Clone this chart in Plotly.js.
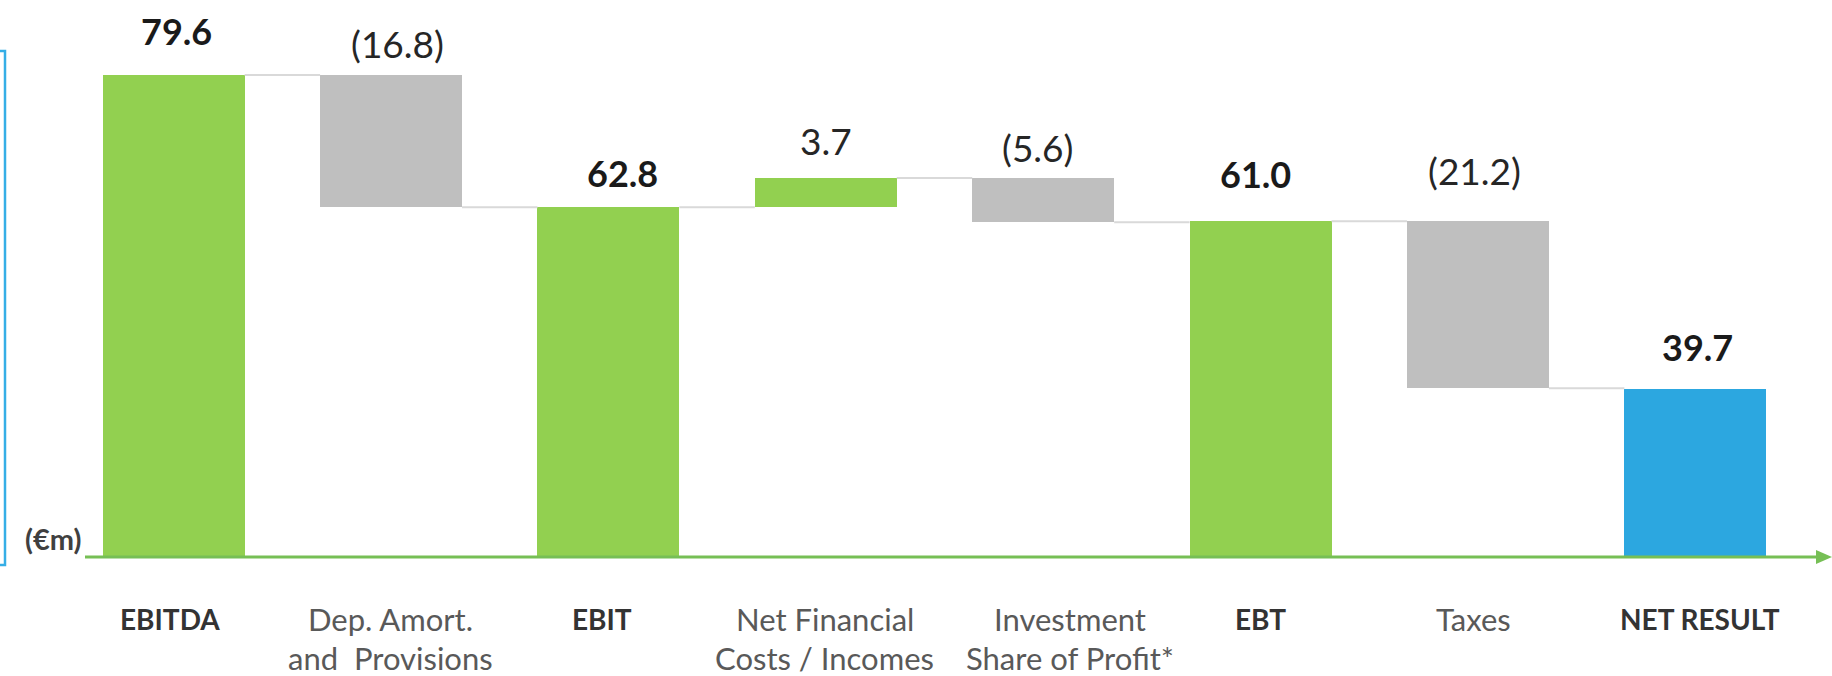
<!DOCTYPE html>
<html>
<head>
<meta charset="utf-8">
<script src="https://cdn.plot.ly/plotly-3.0.1.min.js"></script>
<style>
  html, body { margin: 0; padding: 0; background: #ffffff; }
  #chart { width: 1832px; height: 676px; }
</style>
</head>
<body>
<div id="chart"></div>
<script>
// ---------- data ----------
const categories = ['EBITDA', 'Dep. Amort.<br>and  Provisions', 'EBIT', 'Net Financial<br>Costs / Incomes', 'Investment<br>Share of Profit*', 'EBT', 'Taxes', 'NET RESULT'];
const values = [79.6, -16.8, 62.8, 3.7, -5.6, 61.0, -21.2, 39.7];
const measures = ['total', 'relative', 'total', 'relative', 'relative', 'total', 'relative', 'total'];
const valueLabels = ['79.6', '(16.8)', '62.8', '3.7', '(5.6)', '61.0', '(21.2)', '39.7'];
const axisStart = 18.35;   // the value axis is cut, it does not start at zero
const unitLabel = '(€m)';

// ---------- styling ----------
const W = 1832, H = 676;
const M = {l: 65, r: 28, t: 20, b: 119};
const plotW = W - M.l - M.r, plotH = H - M.t - M.b;
const pxPerUnit = 7.87;
const yMax = axisStart + plotH / pxPerUnit;
const barWidth = 0.653;
const GREEN = '#92D050', GRAY = '#BFBFBF', BLUE = '#2CA7E0';
const AXIS_GREEN = '#76BF55', CONNECTOR = '#D9D9D9', BRACKET = '#35AEE6';
const labelShift = [44, 31, 34, 38, 31, 47, 51, 42];   // px above the top of each bar
const labelXShift = [3, 6, 14, 0, -6, -5, -3, 2];
const catXShift = [-4, -1, -6, -1, 27, 0, -4, 5];
const FONT = 'Lato, "Open Sans", sans-serif';

// ---------- build bars from data ----------
const idx = categories.map((_, i) => i);
const bases = [], heights = [], colors = [], tops = [];
let running = 0;
values.forEach((v, i) => {
  if (measures[i] === 'total') {
    bases.push(0); heights.push(v); running = v;
    colors.push(i === values.length - 1 ? BLUE : GREEN);
    tops.push(v);
  } else {
    bases.push(running); heights.push(v);
    colors.push(v >= 0 ? GREEN : GRAY);
    tops.push(Math.max(running, running + v));
    running = running + v;
  }
});

const traces = [];
// connectors
values.forEach((v, i) => {
  if (i === values.length - 1) return;
  const level = bases[i] + heights[i];
  traces.push({
    type: 'scatter', mode: 'lines',
    x: [i + barWidth / 2, i + 1 - barWidth / 2], y: [level, level],
    line: {color: CONNECTOR, width: 2}, hoverinfo: 'skip', showlegend: false
  });
});
traces.push({
  type: 'bar', x: idx, y: heights, base: bases, width: barWidth,
  marker: {color: colors, line: {width: 0}},
  hoverinfo: 'skip', showlegend: false
});

const annotations = [];
// value labels
valueLabels.forEach((t, i) => {
  const bold = measures[i] === 'total';
  annotations.push({
    x: i, y: tops[i], xref: 'x', yref: 'y',
    text: bold ? '<b>' + t + '</b>' : t,
    showarrow: false, yanchor: 'middle', xanchor: 'center',
    yshift: labelShift[i], xshift: labelXShift[i],
    font: {family: FONT, size: bold ? 36 : 37, color: bold ? '#1A1A1A' : '#262626'}
  });
});
// category labels (one annotation per line, custom line spacing)
categories.forEach((c, i) => {
  const bold = measures[i] === 'total';
  c.split('<br>').forEach((line, k) => {
    annotations.push({
      x: i, y: 0, xref: 'x', yref: 'paper',
      text: bold ? '<b>' + line + '</b>' : line,
      showarrow: false, yanchor: 'middle', xanchor: 'center', borderpad: 0,
      yshift: -(62 + k * 39), xshift: catXShift[i],
      font: {family: FONT, size: bold ? 28 : 31, color: bold ? '#333333' : '#595959'}
    });
  });
});
const px = x => (x - M.l) / plotW;
const py = y => (H - M.b - y) / plotH;
annotations.push({
  x: px(53), y: py(538), xref: 'paper', yref: 'paper', text: '<b>' + unitLabel + '</b>',
  showarrow: false, xanchor: 'center', yanchor: 'middle',
  font: {family: FONT, size: 29, color: '#404040'}
});

const shapes = [
  // value axis baseline with arrow
  {type: 'line', xref: 'paper', yref: 'paper', x0: px(85), x1: px(1820), y0: 0, y1: 0,
   line: {color: AXIS_GREEN, width: 3}},
  {type: 'path', xref: 'paper', yref: 'paper',
   path: `M ${px(1816)} ${py(550)} L ${px(1832)} ${py(557)} L ${px(1816)} ${py(564)} Z`,
   fillcolor: AXIS_GREEN, line: {width: 0}},
  // blue frame edge at the left of the picture
  {type: 'path', xref: 'paper', yref: 'paper',
   path: `M ${px(-2)} ${py(51)} L ${px(5)} ${py(51)} L ${px(5)} ${py(565)} L ${px(-2)} ${py(565)}`,
   line: {color: BRACKET, width: 2.5}}
];

const layout = {
  width: W, height: H,
  margin: M,
  paper_bgcolor: '#FFFFFF', plot_bgcolor: '#FFFFFF',
  showlegend: false,
  xaxis: {range: [-0.5, categories.length - 0.5], showticklabels: false, showgrid: false,
          zeroline: false, showline: false, ticks: ''},
  yaxis: {range: [axisStart, yMax], visible: false, showgrid: false, zeroline: false},
  annotations: annotations,
  shapes: shapes,
  bargap: 0
};

Plotly.newPlot('chart', traces, layout, {displayModeBar: false, staticPlot: true});
</script>
</body>
</html>
